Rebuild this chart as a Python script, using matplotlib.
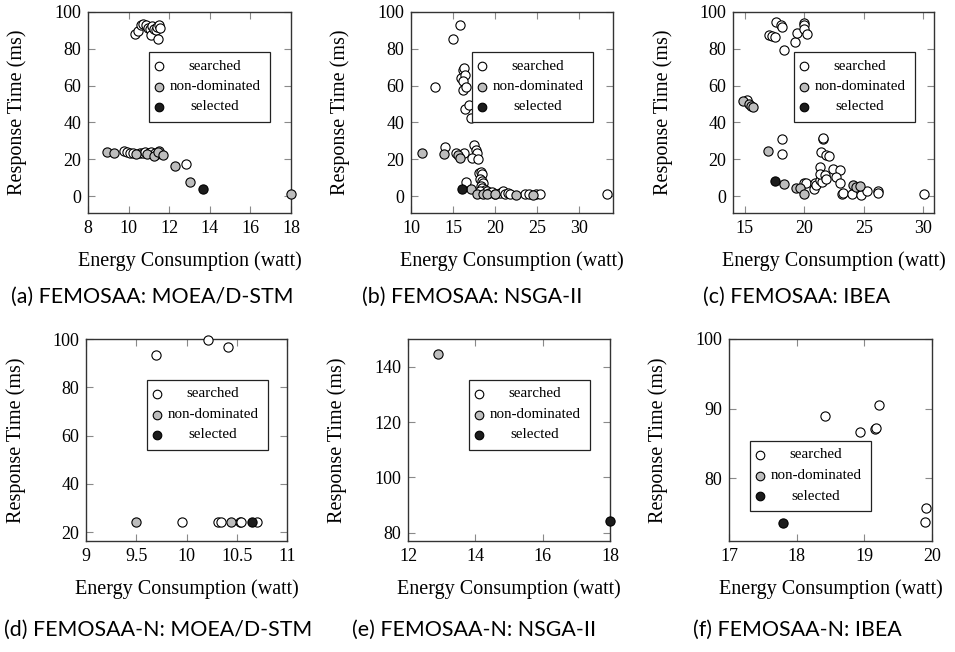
import matplotlib
matplotlib.use("Agg")
import matplotlib.pyplot as plt
from matplotlib.patches import Rectangle
from matplotlib.lines import Line2D
from matplotlib.ticker import FormatStrFormatter

W, H = 955, 652

SERIES_LABELS = ["searched", "non-dominated", "selected"]
SERIES_COLORS = ["white", "#bdbdbd", "#1c1c1c"]

# (a) FEMOSAA: MOEA/D-STM
A_SEARCHED = [(10.32, 88.2), (10.45, 89.8), (10.62, 93.2), (10.72, 93.5), (10.88, 93.0),
              (10.95, 91.5), (11.05, 90.5), (11.10, 87.5), (11.15, 92.5), (11.25, 91.0),
              (11.35, 90.0), (11.40, 92.0), (11.45, 85.5), (11.52, 93.0), (11.55, 91.5),
              (9.75, 24.3), (9.9, 23.8), (10.05, 23.5), (10.2, 23.3), (10.55, 23.6),
              (10.7, 23.5), (10.8, 24.0), (11.0, 23.6), (11.1, 23.8), (11.3, 23.5),
              (11.4, 23.0), (11.5, 24.3), (12.82, 17.2)]
A_NONDOM = [(8.92, 23.8), (9.3, 23.2), (10.35, 22.8), (10.9, 23.0), (11.25, 22.0),
            (11.45, 24.0), (11.7, 22.1), (12.27, 16.3), (13.0, 7.8), (18.0, 1.1)]
A_SELECTED = [(13.68, 3.8)]

# (b) FEMOSAA: NSGA-II
B_SEARCHED = [(15.83, 92.9), (15.04, 85.3), (12.9, 59.1), (16.15, 68.5), (16.3, 69.4),
              (16.0, 63.9), (16.4, 65.7), (16.15, 62.7), (16.2, 57.6), (16.5, 59.4),
              (16.4, 47.3), (16.85, 49.3), (17.1, 42.2), (14.05, 26.8), (15.4, 23.6),
              (16.3, 23.2), (17.5, 27.5), (17.7, 25.2), (17.8, 23.5), (17.3, 20.5),
              (18.0, 19.9), (16.6, 7.7), (18.1, 12.5), (18.3, 13.0), (18.5, 12.0),
              (18.2, 9.5), (18.4, 8.0), (18.6, 7.0), (18.3, 5.5), (18.5, 4.5),
              (18.8, 3.5), (18.2, 3.0), (19.0, 2.5), (19.3, 1.5), (19.7, 2.0),
              (20.0, 1.0), (20.6, 1.5), (20.9, 2.5), (21.2, 1.0), (21.5, 1.5),
              (21.8, 1.0), (23.6, 1.0), (24.1, 1.0), (24.9, 1.0), (25.4, 1.0), (33.3, 1.0)]
B_NONDOM = [(11.35, 23.5), (13.93, 22.6), (15.56, 22.3), (15.8, 20.5), (17.2, 3.7),
            (17.9, 1.1), (18.6, 1.0), (19.1, 1.0), (20.0, 1.0), (22.5, 0.8), (24.5, 0.8)]
B_SELECTED = [(16.1, 3.7)]

# (c) FEMOSAA: IBEA
C_SEARCHED = [(17.6, 94.6), (18.04, 92.9), (18.1, 92.0), (17.06, 87.3), (17.25, 86.9),
              (17.5, 86.2), (18.3, 79.3), (19.22, 83.5), (19.36, 88.4), (19.97, 94.0),
              (19.97, 92.8), (20.0, 91.0), (20.2, 88.0), (15.15, 52.2), (18.1, 30.8),
              (18.15, 22.9), (19.97, 6.9), (20.1, 7.2), (20.77, 3.6), (20.9, 7.1),
              (21.0, 5.8), (21.3, 9.0), (21.5, 7.5), (21.55, 30.8), (21.55, 31.5),
              (21.4, 24.1), (21.8, 22.3), (22.1, 21.5), (21.3, 15.8), (21.3, 11.9),
              (21.7, 11.3), (21.8, 9.5), (22.4, 14.5), (23.0, 14.2), (22.7, 10.4),
              (22.96, 7.1), (23.2, 1.1), (23.25, 1.5), (23.99, 1.1), (24.8, 0.7),
              (25.25, 2.5), (26.16, 2.5), (26.16, 1.5), (30.03, 1.1)]
C_NONDOM = [(14.87, 51.6), (15.35, 50.0), (15.55, 48.8), (15.66, 48.6), (16.97, 24.5),
            (18.3, 6.7), (19.27, 4.6), (19.6, 4.6), (19.97, 1.1), (24.1, 5.9),
            (24.3, 5.0), (24.66, 5.2)]
C_SELECTED = [(17.5, 8.3)]

# (d) FEMOSAA-N: MOEA/D-STM
D_SEARCHED = [(9.70, 93.3), (10.21, 99.6), (10.41, 96.5), (9.96, 24.0), (10.31, 24.0),
              (10.34, 24.0), (10.53, 24.0), (10.54, 24.0), (10.70, 24.0)]
D_NONDOM = [(9.50, 24.0), (10.44, 24.0)]
D_SELECTED = [(10.65, 24.0)]

# (e) FEMOSAA-N: NSGA-II
E_SEARCHED = []
E_NONDOM = [(12.88, 144.5)]
E_SELECTED = [(18.0, 84.2)]

# (f) FEMOSAA-N: IBEA
F_SEARCHED = [(18.42, 88.9), (18.93, 86.6), (19.16, 87.1), (19.17, 87.2), (19.21, 90.5),
              (19.91, 75.8), (19.90, 73.7)]
F_NONDOM = []
F_SELECTED = [(17.80, 73.6)]

CAPTIONS = ["(a) FEMOSAA: MOEA/D-STM", "(b) FEMOSAA: NSGA-II", "(c) FEMOSAA: IBEA",
            "(d) FEMOSAA-N: MOEA/D-STM", "(e) FEMOSAA-N: NSGA-II", "(f) FEMOSAA-N: IBEA"]

# layout in pixels: axes box (left, top, right, bottom), legend box (left, top)
PANELS = [
    dict(series=(A_SEARCHED, A_NONDOM, A_SELECTED), box=(88, 12, 291, 213),
         xlim=(8, 18), ylim=(-9.2, 100), xticks=[8, 10, 12, 14, 16, 18],
         yticks=[0, 20, 40, 60, 80, 100], legend=(149, 52), cap=(152, 297)),
    dict(series=(B_SEARCHED, B_NONDOM, B_SELECTED), box=(411, 12, 613, 213),
         xlim=(10, 34.05), ylim=(-9.2, 100), xticks=[10, 15, 20, 25, 30],
         yticks=[0, 20, 40, 60, 80, 100], legend=(472, 52), cap=(472, 297)),
    dict(series=(C_SEARCHED, C_NONDOM, C_SELECTED), box=(733, 12, 934, 213),
         xlim=(14, 30.9), ylim=(-9.2, 100), xticks=[15, 20, 25, 30],
         yticks=[0, 20, 40, 60, 80, 100], legend=(794, 52), cap=(797, 297)),
    dict(series=(D_SEARCHED, D_NONDOM, D_SELECTED), box=(86, 339, 287, 541),
         xlim=(9, 11), ylim=(16.3, 100), xticks=[9, 9.5, 10, 10.5, 11],
         yticks=[20, 40, 60, 80, 100], legend=(147, 380), cap=(158, 630)),
    dict(series=(E_SEARCHED, E_NONDOM, E_SELECTED), box=(408, 339, 610, 541),
         xlim=(12, 18), ylim=(77, 150), xticks=[12, 14, 16, 18],
         yticks=[80, 100, 120, 140], legend=(469, 380), cap=(474, 630)),
    dict(series=(F_SEARCHED, F_NONDOM, F_SELECTED), box=(729, 339, 932, 541),
         xlim=(17, 20), ylim=(71, 100), xticks=[17, 18, 19, 20],
         yticks=[80, 90, 100], legend=(750, 441), cap=(797, 630)),
]

SERIF = ["Liberation Serif", "DejaVu Serif"]
SANS = ["Lato", "DejaVu Sans"]


def fx(px):
    return px / W


def fy(py):
    return 1 - py / H


def draw_legend(fig, left, top, width=121, height=70):
    fig.add_artist(Rectangle((fx(left), fy(top + height)), width / W, height / H,
                             transform=fig.transFigure, facecolor="white",
                             edgecolor="#222222", linewidth=0.9, zorder=5))
    for i, (label, color) in enumerate(zip(SERIES_LABELS, SERIES_COLORS)):
        row = top + 14 + i * 20.5
        fig.add_artist(Line2D([fx(left + 10)], [fy(row)], marker="o", markersize=6.2,
                              markerfacecolor=color, markeredgecolor="black",
                              markeredgewidth=0.8, linestyle="none",
                              transform=fig.transFigure, zorder=6))
        fig.text(fx(left + 66), fy(row), label, ha="center", va="center",
                 family=SERIF, fontsize=10.8, zorder=7)


def main():
    fig = plt.figure(figsize=(W / 100, H / 100), dpi=100)

    for panel, caption in zip(PANELS, CAPTIONS):
        l, t, r, b = panel["box"]
        ax = fig.add_axes([fx(l), fy(b), (r - l) / W, (b - t) / H])
        for pts, color in zip(panel["series"], SERIES_COLORS):
            if not pts:
                continue
            xs = [p[0] for p in pts]
            ys = [p[1] for p in pts]
            ax.scatter(xs, ys, s=44, facecolor=color, edgecolor="black",
                       linewidth=0.8, clip_on=False, zorder=3)

        ax.set_xlim(*panel["xlim"])
        ax.set_ylim(*panel["ylim"])
        ax.set_xticks(panel["xticks"])
        ax.set_yticks(panel["yticks"])
        ax.xaxis.set_major_formatter(FormatStrFormatter("%g"))
        ax.yaxis.set_major_formatter(FormatStrFormatter("%g"))
        ax.tick_params(direction="in", top=True, right=True, length=5, width=0.8,
                       color="#8a8a8a", labelsize=13, pad=5)
        for lab in ax.get_xticklabels() + ax.get_yticklabels():
            lab.set_family(SERIF)
        for sp in ax.spines.values():
            sp.set_color("#333333")
            sp.set_linewidth(1.0)

        ax.set_xlabel("Energy Consumption (watt)", family=SERIF, fontsize=14.5, labelpad=10)
        ax.set_ylabel("Response Time (ms)", family=SERIF, fontsize=14.5)
        ax.yaxis.set_label_coords(-0.30, 0.5)

        draw_legend(fig, *panel["legend"])
        cx, cy = panel["cap"]
        fig.text(fx(cx), fy(cy), caption, ha="center", va="center",
                 family=SANS, fontsize=15.4)

    fig.savefig("out.png", dpi=100)


if __name__ == "__main__":
    main()
